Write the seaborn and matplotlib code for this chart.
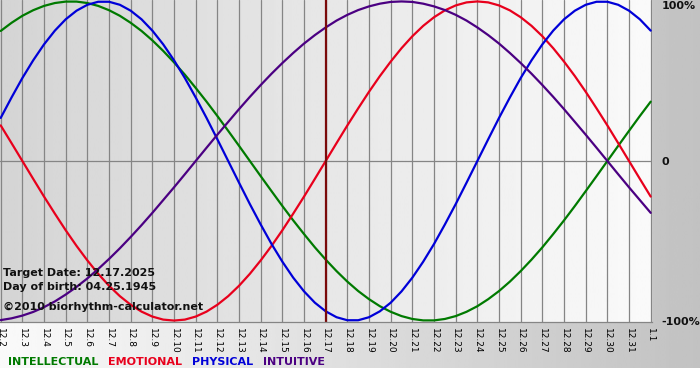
import numpy as np
import pandas as pd
import matplotlib
matplotlib.use("Agg")
import matplotlib.pyplot as plt
import seaborn as sns


# DATA (two readings per day: 12.2, 12.2 noon, 12.3, ...)

DAYS = ['12.2', '12.3', '12.4', '12.5', '12.6', '12.7', '12.8', '12.9', '12.10',
        '12.11', '12.12', '12.13', '12.14', '12.15', '12.16', '12.17', '12.18',
        '12.19', '12.20', '12.21', '12.22', '12.23', '12.24', '12.25', '12.26',
        '12.27', '12.28', '12.29', '12.30', '12.31', '1.1']
READINGS_PER_DAY = 2

intellectual = [0.815, 0.866, 0.910, 0.945, 0.972, 0.990, 0.999, 0.999, 0.990, 0.972,
                0.945, 0.910, 0.866, 0.815, 0.756, 0.690, 0.618, 0.541, 0.458, 0.372,
                0.282, 0.189, 0.095, 0.000,
                -0.095, -0.189, -0.282, -0.372, -0.458, -0.541, -0.618, -0.690, -0.756,
                -0.815, -0.866, -0.910, -0.945, -0.972, -0.990, -0.999, -0.999, -0.990,
                -0.972, -0.945, -0.910, -0.866, -0.815, -0.756, -0.690, -0.618, -0.541,
                -0.458, -0.372, -0.282, -0.189, -0.095, 0.000,
                0.095, 0.189, 0.282, 0.372]

emotional = [0.223, 0.112, 0.000,
             -0.112, -0.223, -0.330, -0.434, -0.532, -0.623, -0.707, -0.782, -0.847,
             -0.901, -0.944, -0.975, -0.994, -1.000, -0.994, -0.975, -0.944, -0.901,
             -0.847, -0.782, -0.707, -0.623, -0.532, -0.434, -0.330, -0.223, -0.112,
             0.000,
             0.112, 0.223, 0.330, 0.434, 0.532, 0.623, 0.707, 0.782, 0.847, 0.901,
             0.944, 0.975, 0.994, 1.000, 0.994, 0.975, 0.944, 0.901, 0.847, 0.782,
             0.707, 0.623, 0.532, 0.434, 0.330, 0.223, 0.112,
             0.000, -0.112, -0.223]

physical = [0.270, 0.398, 0.520, 0.631, 0.731, 0.817, 0.888, 0.942, 0.979, 0.998, 0.998,
            0.979, 0.942, 0.888, 0.817, 0.731, 0.631, 0.520, 0.398, 0.270, 0.136, 0.000,
            -0.136, -0.270, -0.398, -0.520, -0.631, -0.731, -0.817, -0.888, -0.942,
            -0.979, -0.998, -0.998, -0.979, -0.942, -0.888, -0.817, -0.731, -0.631,
            -0.520, -0.398, -0.270, -0.136, 0.000,
            0.136, 0.270, 0.398, 0.520, 0.631, 0.731, 0.817, 0.888, 0.942, 0.979,
            0.998, 0.998, 0.979, 0.942, 0.888, 0.817]

intuitive = [-0.997, -0.986, -0.969, -0.946, -0.916, -0.880, -0.837, -0.789, -0.736,
             -0.677, -0.614, -0.547, -0.476, -0.402, -0.325, -0.245, -0.165, -0.083,
             0.000, 0.083, 0.165, 0.245, 0.325, 0.402, 0.476, 0.547, 0.614, 0.677,
             0.736, 0.789, 0.837, 0.880, 0.916, 0.946, 0.969, 0.986, 0.997, 1.000,
             0.997, 0.986, 0.969, 0.946, 0.916, 0.880, 0.837, 0.789, 0.736, 0.677,
             0.614, 0.547, 0.476, 0.402, 0.325, 0.245, 0.165, 0.083, 0.000,
             -0.083, -0.165, -0.245, -0.325]

SERIES = ['INTELLECTUAL', 'EMOTIONAL', 'PHYSICAL', 'INTUITIVE']
COLORS = ['#007a00', '#e8001c', '#0000d8', '#4b0082']

TARGET_DAY = '12.17'
TARGET_TEXT = 'Target Date: 12.17.2025'
BIRTH_TEXT = 'Day of birth: 04.25.1945'
SITE_TEXT = '\u00a92010 biorhythm-calculator.net'
Y_LABELS = ['-100%', '0', '100%']


# DATAFRAME

n = len(intellectual)
day_axis = np.arange(n) / READINGS_PER_DAY
df = pd.DataFrame({
    'day': np.tile(day_axis, 4),
    'value': intellectual + emotional + physical + intuitive,
    'rhythm': np.repeat(SERIES, n),
})


# FIGURE

sns.set_style("white")
plt.rcParams['font.family'] = ['DejaVu Sans']

W, H = 700, 380
fig = plt.figure(figsize=(W / 100, H / 100), dpi=100)

# outer background: white -> gray, white strip at the very bottom
bg = fig.add_axes([0, 0, 1, 1], zorder=-10)
outer = np.linspace(0.98, 0.76, 256)[None, :]
bg.imshow(outer, cmap='gray', vmin=0, vmax=1, aspect='auto',
          extent=[0, 1, 12 / H, 1])
bg.set_xlim(0, 1)
bg.set_ylim(0, 1)
bg.axis('off')

# plot area
ax = fig.add_axes([0, 1 - 322 / H, 652 / W, 322 / H])
inner = np.linspace(0.83, 0.985, 256)[None, :]
ax.imshow(inner, cmap='gray', vmin=0, vmax=1, aspect='auto',
          extent=[-0.5, 31, -1.5, 1.5], zorder=0)

sns.lineplot(data=df, x='day', y='value', hue='rhythm', hue_order=SERIES,
             palette=COLORS, linewidth=1.6, legend=False, ax=ax, zorder=3)

ax.set_xlim(-0.7 / 21.667, 30 + 1.3 / 21.667)
ax.set_ylim(-1.009, 1.009)

# day grid + zero line
for i in range(len(DAYS)):
    ax.axvline(i, color='#858585', lw=0.9, zorder=1)
ax.axhline(0, color='#858585', lw=0.9, zorder=1)
ax.axvline(DAYS.index(TARGET_DAY), color='#7a0a0a', lw=1.6, zorder=4)

for s in ['top', 'left', 'right']:
    ax.spines[s].set_visible(False)
ax.spines['bottom'].set_color('#858585')
ax.spines['bottom'].set_linewidth(0.9)
ax.spines['bottom'].set_zorder(5)

ax.set_xticks(range(len(DAYS)))
ax.set_xticklabels(DAYS, rotation=-90, fontsize=6.5, va='top', ha='center',
                   color='black')
ax.tick_params(axis='x', length=3, width=0.9, color='#858585', pad=1)

ax.yaxis.tick_right()
ax.set_yticks([-1, 0, 1])
ax.set_yticklabels(Y_LABELS, fontsize=8, fontweight='bold', color='#111111')
ax.tick_params(axis='y', length=0, pad=7)
ax.get_yticklabels()[2].set_va('top')
ax.set_xlabel('')
ax.set_ylabel('')

# info text inside the plot
info_kw = dict(transform=ax.transAxes, fontsize=8, fontweight='bold',
               color='#111111', va='center', ha='left', zorder=6)
ax.text(3 / 652, 1 - 273 / 322, TARGET_TEXT, **info_kw)
ax.text(3 / 652, 1 - 287 / 322, BIRTH_TEXT, **info_kw)
ax.text(3 / 652, 1 - 307 / 322, SITE_TEXT, **info_kw)

# legend as coloured words along the bottom
prev = fig.text(8 / W, 1 - 362 / H, SERIES[0], color=COLORS[0], fontsize=8,
                fontweight='bold', va='center', ha='left')
for name, col in zip(SERIES[1:], COLORS[1:]):
    prev = bg.annotate(name, xy=(1, 0.5), xycoords=prev, xytext=(7, 0),
                       textcoords='offset points', color=col, fontsize=8,
                       fontweight='bold', va='center', ha='left')

fig.savefig('out.png', dpi=100)
